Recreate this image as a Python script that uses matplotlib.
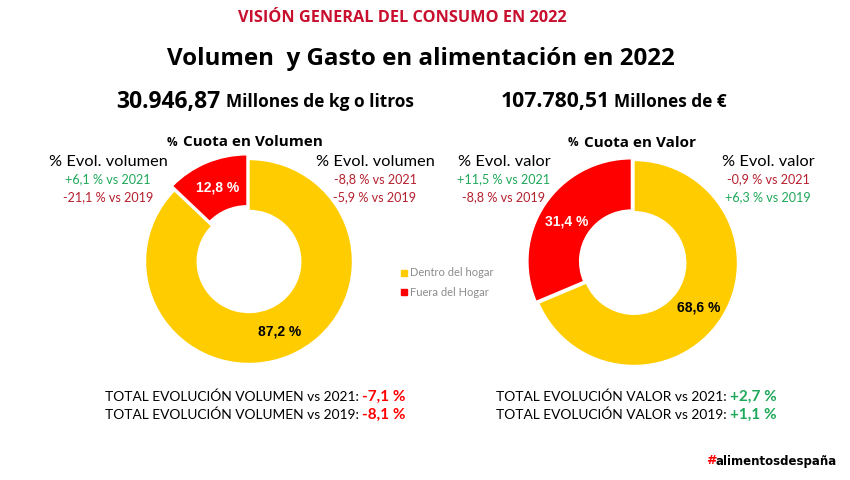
import matplotlib
matplotlib.use("Agg")
import matplotlib.pyplot as plt

W, H = 850, 480
YELLOW = "#FFCC00"
RED = "#FF0000"
GREEN = "#1FA85A"
DARKRED = "#B5202E"

categories = ["Dentro del hogar", "Fuera del Hogar"]
volumen = [87.2, 12.8]
valor = [68.6, 31.4]
volumen_labels = ["87,2 %", "12,8 %"]
valor_labels = ["68,6 %", "31,4 %"]

evol_vol_left = ["+6,1 % vs 2021", "-21,1 % vs 2019"]
evol_vol_right = ["-8,8 % vs 2021", "-5,9 % vs 2019"]
evol_val_left = ["+11,5 % vs 2021", "-8,8 % vs 2019"]
evol_val_right = ["-0,9 % vs 2021", "+6,3 % vs 2019"]

total_vol = ["-7,1 %", "-8,1 %"]
total_val = ["+2,7 %", "+1,1 %"]

fig = plt.figure(figsize=(W / 100, H / 100), dpi=100, facecolor="white")


def txt(x, y, s, size, color="black", weight="normal", family="Lato", ha="center"):
    # x, y in pixels from the top left
    return fig.text(x / W, 1 - y / H, s, fontsize=size, color=color, weight=weight,
                    family=family, ha=ha, va="center")


def donut(cx, cy, rx, ry, values, labels, explode, label_pos):
    # the picture is stretched a little, so rx and ry differ
    ax = fig.add_axes([(cx - rx * 1.1) / W, 1 - (cy + ry * 1.1) / H, rx * 2.2 / W, ry * 2.2 / H])
    ax.pie(values, colors=[YELLOW, RED], startangle=90, counterclock=False, explode=explode,
           radius=1, wedgeprops=dict(width=0.5, edgecolor="white", linewidth=1))
    ax.set_xlim(-1.1, 1.1)
    ax.set_ylim(-1.1, 1.1)
    ax.set_aspect("auto")
    ax.axis("off")
    for (px, py), s, c in zip(label_pos, labels, ["black", "white"]):
        txt(px, py, s, 10, color=c, weight="bold", family="Liberation Sans")


def evol(x, head, rows):
    txt(x, 162, head, 11.8)
    for y, s in zip([179, 197], rows):
        txt(x, y, s, 9.1, color=GREEN if s.startswith("+") else DARKRED)


def colored_line(x, y, label, value):
    t = txt(x, y, label, 9.9, ha="left")
    fig.canvas.draw()
    bb = t.get_window_extent()
    col = GREEN if value.startswith("+") else RED
    txt(bb.x1 + 3, y, value, 11, color=col, weight="bold", ha="left")


txt(402, 18, "VISIÓN GENERAL DEL CONSUMO EN 2022", 11.7, color="#C8102E", weight="bold", family="Open Sans")
txt(421, 59, "Volumen  y Gasto en alimentación en 2022", 17.4, weight="bold", family="Open Sans")

txt(116, 102, "30.946,87", 16.5, weight="bold", family="Open Sans", ha="left")
txt(226, 102, "Millones de kg o litros", 12.4, weight="bold", family="Open Sans", ha="left")
txt(501, 102, "107.780,51", 15.2, weight="bold", family="Open Sans", ha="left")
txt(614, 102, "Millones de €", 12.4, weight="bold", family="Open Sans", ha="left")

# the % sign is smaller than the rest of these headings
txt(167, 142, "%", 8.5, weight="bold", family="Open Sans", ha="left")
txt(183, 142, "Cuota en Volumen", 11, weight="bold", family="Open Sans", ha="left")
txt(568, 143, "%", 8.5, weight="bold", family="Open Sans", ha="left")
txt(584, 143, "Cuota en Valor", 11, weight="bold", family="Open Sans", ha="left")

donut(249, 261.5, 103.5, 102, volumen, volumen_labels, [0, 0.05], [(280, 332), (218, 187)])
donut(634, 263, 103.5, 102.5, valor, valor_labels, [0, 0.03], [(699, 307), (567, 221)])

evol(108, "% Evol. volumen", evol_vol_left)
evol(375, "% Evol. volumen", evol_vol_right)
evol(504, "% Evol. valor", evol_val_left)
evol(768, "% Evol. valor", evol_val_right)

# legend in the middle
for y, c, s in zip([273, 292], [YELLOW, RED], categories):
    fig.patches.append(plt.Rectangle((401 / W, 1 - (y + 3) / H), 6 / W, 6 / H, color=c,
                                     transform=fig.transFigure))
    txt(410, y, s, 8, color="#8C8C8C", ha="left")

colored_line(105, 397, "TOTAL EVOLUCIÓN VOLUMEN vs 2021:", total_vol[0])
colored_line(105, 415, "TOTAL EVOLUCIÓN VOLUMEN vs 2019:", total_vol[1])
colored_line(496, 397, "TOTAL EVOLUCIÓN VALOR vs 2021:", total_val[0])
colored_line(496, 415, "TOTAL EVOLUCIÓN VALOR vs 2019:", total_val[1])

# logo
txt(706, 461, "#", 9, color=RED, weight="bold", family="DejaVu Sans", ha="left")
txt(716, 461, "alimentosdespaña", 8.5, weight="bold", family="DejaVu Sans", ha="left")

fig.savefig("out.png", dpi=100)
